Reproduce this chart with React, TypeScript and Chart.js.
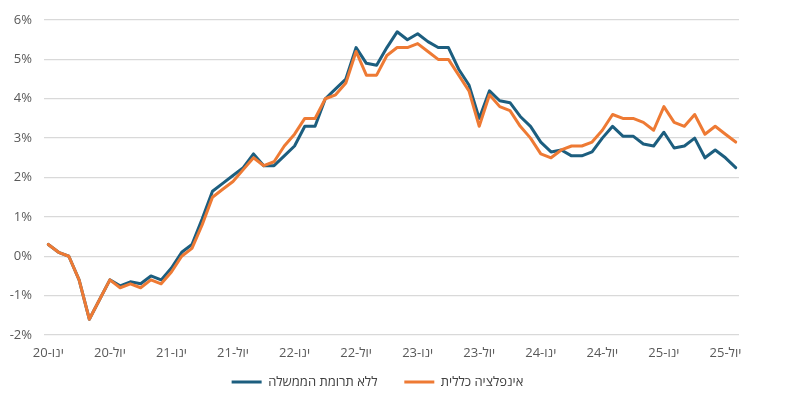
import React, { useEffect, useRef } from "react";
import { Chart, registerables } from "chart.js";

Chart.register(...registerables);

// Monthly categories, Jan 2020 – Aug 2025
const categories = [
  "ינו-20", "פבר-20", "מרץ-20", "אפר-20", "מאי-20", "יונ-20", "יול-20", "אוג-20", "ספט-20", "אוק-20", "נוב-20", "דצמ-20",
  "ינו-21", "פבר-21", "מרץ-21", "אפר-21", "מאי-21", "יונ-21", "יול-21", "אוג-21", "ספט-21", "אוק-21", "נוב-21", "דצמ-21",
  "ינו-22", "פבר-22", "מרץ-22", "אפר-22", "מאי-22", "יונ-22", "יול-22", "אוג-22", "ספט-22", "אוק-22", "נוב-22", "דצמ-22",
  "ינו-23", "פבר-23", "מרץ-23", "אפר-23", "מאי-23", "יונ-23", "יול-23", "אוג-23", "ספט-23", "אוק-23", "נוב-23", "דצמ-23",
  "ינו-24", "פבר-24", "מרץ-24", "אפר-24", "מאי-24", "יונ-24", "יול-24", "אוג-24", "ספט-24", "אוק-24", "נוב-24", "דצמ-24",
  "ינו-25", "פבר-25", "מרץ-25", "אפר-25", "מאי-25", "יונ-25", "יול-25", "אוג-25",
];

// Labels shown on the x axis
const tickLabels = [
  "ינו-20", "יול-20", "ינו-21", "יול-21", "ינו-22", "יול-22",
  "ינו-23", "יול-23", "ינו-24", "יול-24", "ינו-25", "יול-25",
];

// Inflation excluding government contribution (%)
const excludingGovernment = [
  0.3, 0.1, 0.0, -0.6, -1.6, -1.1, -0.6, -0.75, -0.65, -0.7, -0.5, -0.6,
  -0.3, 0.1, 0.3, 0.95, 1.65, 1.85, 2.05, 2.25, 2.6, 2.3, 2.3, 2.55,
  2.8, 3.3, 3.3, 4.0, 4.25, 4.5, 5.3, 4.9, 4.85, 5.3, 5.7, 5.5,
  5.65, 5.45, 5.3, 5.3, 4.75, 4.35, 3.5, 4.2, 3.95, 3.9, 3.55, 3.3,
  2.9, 2.65, 2.7, 2.55, 2.55, 2.65, 3.0, 3.3, 3.05, 3.05, 2.85, 2.8,
  3.15, 2.75, 2.8, 3.0, 2.5, 2.7, 2.5, 2.25,
];

// Headline inflation (%)
const headlineInflation = [
  0.3, 0.1, 0.0, -0.6, -1.6, -1.1, -0.6, -0.8, -0.7, -0.8, -0.6, -0.7,
  -0.4, 0.0, 0.2, 0.8, 1.5, 1.7, 1.9, 2.2, 2.5, 2.3, 2.4, 2.8,
  3.1, 3.5, 3.5, 4.0, 4.1, 4.4, 5.2, 4.6, 4.6, 5.1, 5.3, 5.3,
  5.4, 5.2, 5.0, 5.0, 4.6, 4.2, 3.3, 4.1, 3.8, 3.7, 3.3, 3.0,
  2.6, 2.5, 2.7, 2.8, 2.8, 2.9, 3.2, 3.6, 3.5, 3.5, 3.4, 3.2,
  3.8, 3.4, 3.3, 3.6, 3.1, 3.3, 3.1, 2.9,
];

const seriesNames = ["ללא תרומת הממשלה", "אינפלציה כללית"];

const BLUE = "#1c5e7f";
const ORANGE = "#ee7a34";
const FONT = "'Open Sans', 'DejaVu Sans', sans-serif";

export default function App() {
  const canvasRef = useRef<HTMLCanvasElement>(null);

  useEffect(() => {
    const canvas = canvasRef.current;
    if (!canvas) return;
    const tickIndices = tickLabels.map((t) => categories.indexOf(t));
    const chart = new Chart(canvas, {
      type: "line",
      data: {
        datasets: [
          {
            label: seriesNames[0],
            data: excludingGovernment.map((y, i) => ({ x: i, y })),
            borderColor: BLUE,
            backgroundColor: BLUE,
            borderWidth: 3,
            pointRadius: 0,
            tension: 0,
            borderCapStyle: "round",
            borderJoinStyle: "round",
            order: 1,
          },
          {
            label: seriesNames[1],
            data: headlineInflation.map((y, i) => ({ x: i, y })),
            borderColor: ORANGE,
            backgroundColor: ORANGE,
            borderWidth: 3,
            pointRadius: 0,
            tension: 0,
            borderCapStyle: "round",
            borderJoinStyle: "round",
            order: 0,
          },
        ],
      },
      options: {
        responsive: false,
        animation: false,
        layout: { padding: { left: 0, right: 30, top: 20, bottom: 0 } },
        plugins: {
          tooltip: { enabled: false },
          legend: {
            position: "bottom",
            maxHeight: 29.5,
            labels: {
              usePointStyle: true,
              pointStyle: "line",
              pointStyleWidth: 30,
              padding: 10,
              color: "#404040",
              font: { family: FONT, size: 13 },
              generateLabels: (c: any) =>
                Chart.defaults.plugins.legend.labels.generateLabels(c).map((item: any) =>
                  item.datasetIndex === 0 ? { ...item, text: item.text + "\u00A0\u00A0\u00A0\u00A0\u00A0" } : item
                ),
              sort: (a: any, b: any) => a.datasetIndex - b.datasetIndex,
            },
          },
        },
        scales: {
          x: {
            type: "linear",
            min: -0.42,
            max: 67.32,
            grid: { display: false, drawTicks: false },
            border: { display: false },
            afterBuildTicks: (scale: any) => {
              scale.ticks = tickIndices.map((v) => ({ value: v }));
            },
            afterFit: (scale: any) => {
              scale.height = 30.5;
            },
            ticks: {
              autoSkip: false,
              maxRotation: 0,
              minRotation: 0,
              padding: 10,
              color: "#595959",
              font: { family: FONT, size: 13 },
              callback: (value: any) => categories[Number(value)] ?? "",
            },
          },
          y: {
            min: -2,
            max: 6,
            grid: { color: "#d9d9d9", lineWidth: 1.3, drawTicks: false },
            border: { display: false },
            afterFit: (scale: any) => {
              scale.width = 44;
            },
            ticks: {
              stepSize: 1,
              padding: 12,
              color: "#595959",
              font: { family: FONT, size: 13 },
              callback: (value: any) => `${value}%`,
            },
          },
          yRight: {
            type: "linear",
            position: "right",
            min: -2,
            max: 6,
            grid: { display: false, drawTicks: false },
            border: { display: false },
            ticks: { display: false },
            afterFit: (scale: any) => {
              scale.width = 16;
            },
          },
        },
      },
    });
    return () => chart.destroy();
  }, []);

  return (
    <div style={{ position: "fixed", left: 0, top: 0, width: 785, height: 395, background: "#fff" }}>
      <canvas ref={canvasRef} width={785} height={395} style={{ display: "block" }} />
    </div>
  );
}
